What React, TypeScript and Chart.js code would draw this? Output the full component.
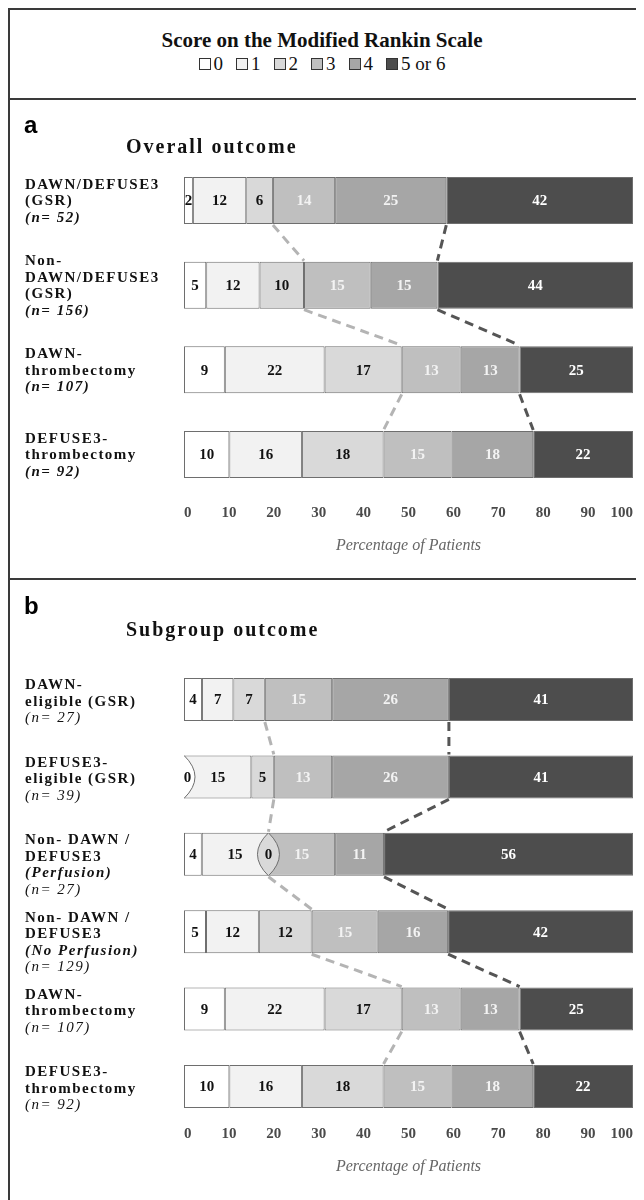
import React, { useEffect, useRef } from "react";
import { Chart, registerables } from "chart.js";

Chart.register(...registerables);

const SERIF = '"Liberation Serif", "Times New Roman", serif';
const SANS = '"Liberation Sans", Arial, sans-serif';

// ---- data ----
const mrsScores = ["0", "1", "2", "3", "4", "5 or 6"];
const mrsColors = ["#ffffff", "#f2f2f2", "#d9d9d9", "#bfbfbf", "#a6a6a6", "#4d4d4d"];
const mrsTextColors = ["#111111", "#111111", "#111111", "#f3f3f3", "#f3f3f3", "#ffffff"];
const tickValues = [0, 10, 20, 30, 40, 50, 60, 70, 80, 90, 100];
const axisTitle = "Percentage of Patients";

const overallGroups = [
  ["DAWN/DEFUSE3", "(GSR)", "(n= 52)"],
  ["Non-", "DAWN/DEFUSE3", "(GSR)", "(n= 156)"],
  ["DAWN-", "thrombectomy", "(n= 107)"],
  ["DEFUSE3-", "thrombectomy", "(n= 92)"],
];
const overallMrs0 = [2, 5, 9, 10];
const overallMrs1 = [12, 12, 22, 16];
const overallMrs2 = [6, 10, 17, 18];
const overallMrs3 = [14, 15, 13, 15];
const overallMrs4 = [25, 15, 13, 18];
const overallMrs56 = [42, 44, 25, 22];

const subgroupGroups = [
  ["DAWN-", "eligible (GSR)", "(n= 27)"],
  ["DEFUSE3-", "eligible (GSR)", "(n= 39)"],
  ["Non- DAWN /", "DEFUSE3", "(Perfusion)", "(n= 27)"],
  ["Non- DAWN /", "DEFUSE3", "(No Perfusion)", "(n= 129)"],
  ["DAWN-", "thrombectomy", "(n= 107)"],
  ["DEFUSE3-", "thrombectomy", "(n= 92)"],
];
const subgroupMrs0 = [4, 0, 4, 5, 9, 10];
const subgroupMrs1 = [7, 15, 15, 12, 22, 16];
const subgroupMrs2 = [7, 5, 0, 12, 17, 18];
const subgroupMrs3 = [15, 13, 15, 15, 13, 15];
const subgroupMrs4 = [26, 26, 11, 16, 13, 18];
const subgroupMrs56 = [41, 41, 56, 42, 25, 22];

type PanelCfg = {
  letter: string;
  title: string;
  groups: string[][];
  series: number[][];
  nBold: boolean;
  height: number;
  padTop: number;
  padBottom: number;
  tickPad: number;
  titleOffset: number;
  labelMode: "center" | "top";
  letterBaseline: number;
  titleBaseline: number;
};

function lineFont(line: string, nBold: boolean) {
  if (/^\(n=/.test(line)) return `${nBold ? "bold " : ""}italic 15px ${SERIF}`;
  if (/^\((Perfusion|No Perfusion)\)/.test(line)) return `bold italic 15px ${SERIF}`;
  return `bold 15px ${SERIF}`;
}

function Panel({ cfg }: { cfg: PanelCfg }) {
  const ref = useRef<HTMLCanvasElement | null>(null);

  useEffect(() => {
    if (!ref.current) return;
    const { groups, series } = cfg;
    const totals = groups.map((_, r) => series.reduce((a, s) => a + s[r], 0));
    const cum = (r: number, k: number) => {
      let s = 0;
      for (let i = 0; i < k; i++) s += series[i][r];
      return (s / totals[r]) * 100;
    };

    const decor = {
      id: "panelDecor",
      afterDatasetsDraw(chart: any) {
        const ctx = chart.ctx as CanvasRenderingContext2D;
        const area = chart.chartArea;
        const xs = chart.scales.x;
        const metas = series.map((_, k) => chart.getDatasetMeta(k));
        const barBox = (r: number) => {
          const el = metas[0].data[r];
          const p = el.getProps(["y", "height"], true);
          return { top: p.y - p.height / 2, bottom: p.y + p.height / 2, mid: p.y };
        };

        // dashed connectors between consecutive bars
        const connectors = [
          { k: 3, color: "#b4b4b4" },
          { k: 5, color: "#555555" },
        ];
        ctx.save();
        ctx.lineWidth = 3;
        ctx.setLineDash([9, 6]);
        for (const c of connectors) {
          ctx.strokeStyle = c.color;
          for (let r = 0; r < groups.length - 1; r++) {
            const a = barBox(r);
            const b = barBox(r + 1);
            const x1 = xs.getPixelForValue(cum(r, c.k));
            const x2 = xs.getPixelForValue(cum(r + 1, c.k));
            ctx.beginPath();
            ctx.moveTo(x1, a.bottom + 1);
            ctx.lineTo(x2, b.top - 1);
            ctx.stroke();
          }
        }
        ctx.restore();

        // segment value labels
        ctx.save();
        ctx.font = `bold 15px ${SERIF}`;
        ctx.textAlign = "center";
        ctx.textBaseline = "middle";
        metas.forEach((meta, k) => {
          meta.data.forEach((el: any, r: number) => {
            const v = series[k][r];
            if (v === 0) return;
            const p = el.getProps(["x", "base", "y"], true);
            ctx.fillStyle = mrsTextColors[k];
            ctx.fillText(String(v), (p.x + p.base) / 2, p.y + 1);
          });
        });
        ctx.restore();

        // zero-valued segments drawn as lens shapes
        const w = 11;
        for (let k = 0; k < series.length; k++) {
          for (let r = 0; r < groups.length; r++) {
            if (series[k][r] !== 0) continue;
            const bb = barBox(r);
            const x = xs.getPixelForValue(cum(r, k));
            ctx.save();
            ctx.beginPath();
            ctx.rect(area.left, bb.top, area.right - area.left, bb.bottom - bb.top);
            ctx.clip();
            ctx.beginPath();
            ctx.moveTo(x, bb.top);
            ctx.quadraticCurveTo(x - 2 * w, bb.mid, x, bb.bottom);
            ctx.quadraticCurveTo(x + 2 * w, bb.mid, x, bb.top);
            ctx.closePath();
            ctx.fillStyle = mrsColors[k];
            ctx.fill();
            ctx.strokeStyle = "#6e6e6e";
            ctx.lineWidth = 1;
            ctx.stroke();
            ctx.restore();
            const lx = Math.max(x - w, area.left);
            const cx = (lx + x + w) / 2 - (x - w < area.left ? 2 : 0);
            ctx.save();
            ctx.font = `bold 15px ${SERIF}`;
            ctx.textAlign = "center";
            ctx.textBaseline = "middle";
            ctx.fillStyle = "#111111";
            ctx.fillText("0", cx, bb.mid + 1);
            ctx.restore();
          }
        }
      },
      afterDraw(chart: any) {
        const ctx = chart.ctx as CanvasRenderingContext2D;
        const area = chart.chartArea;
        const ys = chart.scales.y;
        ctx.save();
        // panel letter
        ctx.fillStyle = "#000000";
        ctx.textAlign = "left";
        ctx.textBaseline = "alphabetic";
        ctx.font = `bold 24px ${SANS}`;
        ctx.fillText(cfg.letter, 14, cfg.letterBaseline);
        // panel title
        (ctx as any).letterSpacing = "2px";
        ctx.font = `bold 20px ${SERIF}`;
        ctx.fillStyle = "#111111";
        ctx.fillText(cfg.title, 116, cfg.titleBaseline);
        // category labels
        (ctx as any).letterSpacing = "1.5px";
        ctx.textBaseline = "middle";
        const lh = 16.5;
        groups.forEach((lines, r) => {
          const cy = ys.getPixelForValue(r);
          const n = lines.length;
          lines.forEach((line, i) => {
            const y =
              cfg.labelMode === "center" ? cy + (i - (n - 1) / 2) * lh : cy - 15 + i * lh;
            ctx.font = lineFont(line, cfg.nBold);
            ctx.fillStyle = "#111111";
            ctx.fillText(line, 15, y + 1);
          });
        });
        // axis title
        (ctx as any).letterSpacing = "0px";
        ctx.font = `italic 16px ${SERIF}`;
        ctx.fillStyle = "#666666";
        ctx.textAlign = "center";
        ctx.fillText(axisTitle, (area.left + area.right) / 2, area.bottom + cfg.titleOffset);
        ctx.restore();
      },
    };

    const chart = new Chart(ref.current, {
      type: "bar",
      data: {
        labels: groups.map((g) => g.join(" ")),
        datasets: series.map((s, k) => ({
          label: mrsScores[k],
          data: s.map((v, r) => (v / totals[r]) * 100),
          backgroundColor: mrsColors[k],
          borderColor: "#6e6e6e",
          borderWidth: 1,
          borderSkipped: false,
          barPercentage: 0.556,
          categoryPercentage: 1,
        })),
      },
      options: {
        indexAxis: "y",
        animation: false,
        responsive: false,
        maintainAspectRatio: false,
        events: [],
        layout: {
          padding: { left: 174, right: 11, top: cfg.padTop, bottom: cfg.padBottom },
        },
        plugins: {
          legend: { display: false },
          tooltip: { enabled: false },
          title: { display: false },
        },
        scales: {
          x: {
            type: "linear",
            stacked: true,
            min: 0,
            max: 100,
            grid: { display: false, drawTicks: false },
            border: { display: false },
            ticks: {
              align: "inner",
              padding: cfg.tickPad,
              color: "#4a4a4a",
              font: { family: SERIF, size: 15, weight: "bold" },
            },
            afterBuildTicks: (s: any) => {
              s.ticks = tickValues.map((v) => ({ value: v }));
            },
            afterFit: (s: any) => {
              s.height = 30;
            },
          },
          y: {
            type: "category",
            stacked: true,
            display: false,
          },
        },
      } as any,
      plugins: [decor as any],
    });
    return () => chart.destroy();
  }, [cfg]);

  return <canvas ref={ref} width={634} height={cfg.height} style={{ display: "block" }} />;
}

const panelA: PanelCfg = {
  letter: "a",
  title: "Overall outcome",
  groups: overallGroups,
  series: [overallMrs0, overallMrs1, overallMrs2, overallMrs3, overallMrs4, overallMrs56],
  nBold: true,
  height: 478,
  padTop: 58.25,
  padBottom: 51.25,
  tickPad: 7.25,
  titleOffset: 49,
  labelMode: "center",
  letterBaseline: 33,
  titleBaseline: 53,
};

const panelB: PanelCfg = {
  letter: "b",
  title: "Subgroup outcome",
  groups: subgroupGroups,
  series: [subgroupMrs0, subgroupMrs1, subgroupMrs2, subgroupMrs3, subgroupMrs4, subgroupMrs56],
  nBold: false,
  height: 640,
  padTop: 80.8,
  padBottom: 64.8,
  tickPad: -0.2,
  titleOffset: 41.8,
  labelMode: "top",
  letterBaseline: 34,
  titleBaseline: 56,
};

export default function App() {
  return (
    <div
      style={{
        borderTop: "2px solid #3a3a3a",
        borderLeft: "2px solid #3a3a3a",
        width: 634,
        fontFamily: SERIF,
        color: "#111",
      }}
    >
      <style>{`body{overflow:hidden}`}</style>
      <div
        style={{
          height: 90,
          borderBottom: "2px solid #3a3a3a",
          textAlign: "center",
          paddingRight: 10,
          boxSizing: "border-box",
        }}
      >
        <div style={{ paddingTop: 18, fontWeight: "bold", fontSize: 21, lineHeight: "24px" }}>
          Score on the Modified Rankin Scale
        </div>
        <div
          style={{
            marginTop: 1,
            fontSize: 19,
            lineHeight: "22px",
            display: "flex",
            justifyContent: "center",
            alignItems: "center",
            gap: 13,
          }}
        >
          {mrsScores.map((s, k) => (
            <span key={s} style={{ display: "inline-flex", alignItems: "center" }}>
              <span
                style={{
                  display: "inline-block",
                  width: 10,
                  height: 10,
                  border: "1px solid #333",
                  background: mrsColors[k],
                  marginRight: 3,
                }}
              />
              {s}
            </span>
          ))}
        </div>
      </div>
      <div style={{ borderBottom: "2px solid #3a3a3a" }}>
        <Panel cfg={panelA} />
      </div>
      <div>
        <Panel cfg={panelB} />
      </div>
    </div>
  );
}
